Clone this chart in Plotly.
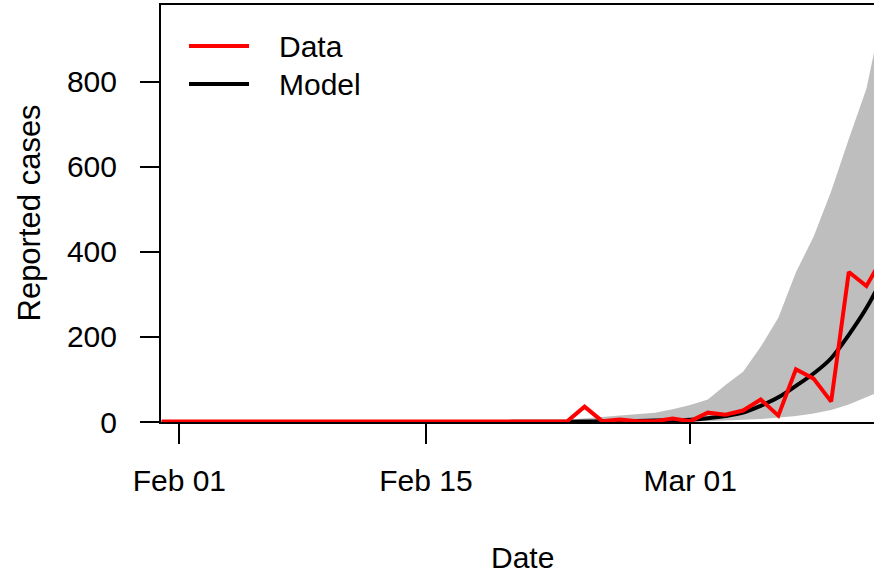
import pandas as pd
import plotly.graph_objects as go

dates = pd.date_range("2020-01-31", "2020-03-12", freq="D")

data_cases = [1, 1, 0, 2, 0, 0, 1, 0, 0, 0,
              1, 1, 0, 1, 0, 0, 0, 0, 1, 1,
              1, 1, 1, 1, 36, 2, 6, 2, 2, 8,
              2, 22, 17, 27, 53, 15, 124, 102, 48, 353,
              320, 392]

model_mean = [0, 0, 0, 0, 0, 0, 0, 0, 0, 0,
              0, 0, 0, 0, 0, 0, 0, 0, 0, 0,
              0.3, 0.4, 0.6, 0.8, 1.1, 1.5, 2, 2.6, 3.4, 4.4,
              5.5, 9, 14, 22, 38, 58, 85, 114, 150, 205,
              268, 345]

model_upper = [0, 0, 0, 0, 0, 0, 0, 0, 0, 0,
               0, 0, 0, 0, 0, 0, 0, 0, 0, 0,
               0.5, 1, 1.5, 5, 9, 12, 15, 18, 22, 30,
               40, 53, 87, 118, 177, 245, 352, 436, 543, 666,
               784, 980]

model_lower = [0, 0, 0, 0, 0, 0, 0, 0, 0, 0,
               0, 0, 0, 0, 0, 0, 0, 0, 0, 0,
               0, 0, 0, 0, 0, 0, 0, 0, 0, 0.5,
               1, 2, 3, 5, 7, 10, 14, 20, 28, 41,
               58, 76]

tick_dates = ["2020-02-01", "2020-02-15", "2020-03-01"]
tick_labels = ["Feb 01", "Feb 15", "Mar 01"]
y_ticks = [0, 200, 400, 600, 800]

FONT = "Liberation Sans, Arial, Helvetica, sans-serif"
FS = 30

fig = go.Figure()
fig.add_trace(go.Scatter(x=dates, y=model_lower, mode="lines",
                         line=dict(width=0, color="#BEBEBE"),
                         showlegend=False, hoverinfo="skip"))
fig.add_trace(go.Scatter(x=dates, y=model_upper, mode="lines",
                         line=dict(width=0, color="#BEBEBE"),
                         fill="tonexty", fillcolor="#BEBEBE",
                         showlegend=False, hoverinfo="skip"))
fig.add_trace(go.Scatter(x=dates, y=model_mean, mode="lines", name="Model",
                         line=dict(color="black", width=4, shape="spline"),
                         showlegend=False))
fig.add_trace(go.Scatter(x=dates, y=data_cases, mode="lines", name="Data",
                         line=dict(color="#FF0000", width=4),
                         showlegend=False))

W, H = 874, 575
L, R, T, B = 161, 0, 5, 153
pw, ph = W - L - R, H - T - B

def px_x(x):
    return (x - L) / pw

def px_y(y):
    return (H - B - y) / ph

# manual legend
legend_items = [("Data", "#FF0000", 46), ("Model", "black", 84)]
for name, col, yy in legend_items:
    fig.add_shape(type="line", xref="paper", yref="paper",
                  x0=px_x(189), x1=px_x(249), y0=px_y(yy), y1=px_y(yy),
                  line=dict(color=col, width=4))
    fig.add_annotation(text=name, xref="paper", yref="paper",
                       x=px_x(277), y=px_y(yy), xanchor="left", yanchor="middle",
                       showarrow=False, font=dict(size=FS, color="black", family=FONT))

fig.add_annotation(text="Date", xref="paper", yref="paper",
                   x=px_x(522), y=px_y(557), xanchor="center", yanchor="middle",
                   showarrow=False, font=dict(size=FS, color="black", family=FONT))
fig.add_annotation(text="Reported cases", xref="paper", yref="paper",
                   x=px_x(29), y=0.5, xanchor="center", yanchor="middle",
                   textangle=-90,
                   showarrow=False, font=dict(size=31, color="black", family=FONT))

fig.update_layout(
    width=W, height=H,
    margin=dict(l=L, r=R, t=T, b=B, pad=0),
    plot_bgcolor="white", paper_bgcolor="white",
    font=dict(family=FONT, size=FS, color="black"),
    showlegend=False,
)
fig.update_xaxes(
    type="date",
    range=["2020-01-30 23:00", "2020-03-11 10:20"],
    tickvals=tick_dates, ticktext=tick_labels,
    ticks="outside", ticklen=20, tickwidth=2, tickcolor="black",
    showline=True, linecolor="black", linewidth=2, mirror=True,
    showgrid=False, zeroline=False,
    ticklabelstandoff=11,
    tickfont=dict(size=FS, family=FONT, color="black"),
)
fig.update_yaxes(
    range=[0, 981],
    tickvals=y_ticks,
    ticks="outside", ticklen=19, tickwidth=2, tickcolor="black",
    showline=True, linecolor="black", linewidth=2, mirror=False,
    showgrid=False, zeroline=False,
    ticklabelstandoff=17,
    tickfont=dict(size=FS, family=FONT, color="black"),
)

fig.write_html("out.html",
               config={"displayModeBar": False},
               post_script="document.body.style.margin='0';document.body.style.padding='0';document.body.style.overflow='hidden';")
